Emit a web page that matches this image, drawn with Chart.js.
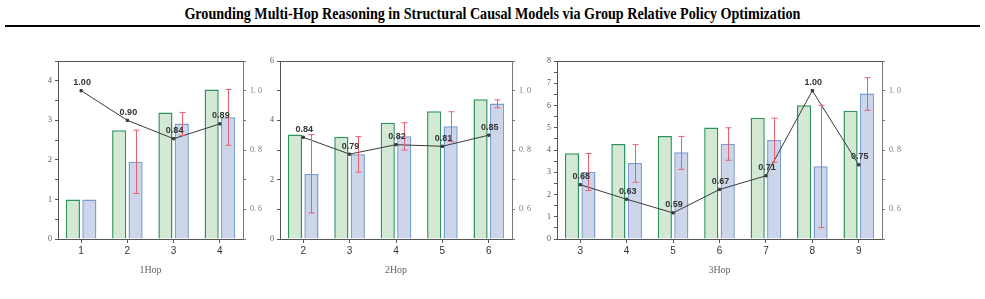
<!DOCTYPE html>
<html><head><meta charset="utf-8">
<script src="https://cdn.jsdelivr.net/npm/chart.js@4/dist/chart.umd.min.js"></script>
<style>
body{margin:0;width:985px;height:299px;background:#fff;position:relative;overflow:hidden}
#title{position:absolute;top:4px;left:0;width:985px;text-align:center;font:bold 17px 'Liberation Serif',serif;color:#000;white-space:nowrap;transform:scaleX(0.83);transform-origin:492px 0}
#rule{position:absolute;left:5px;top:25px;width:975px;height:2px;background:#000}
canvas{position:absolute}
</style></head><body>
<div id="title">Grounding Multi-Hop Reasoning in Structural Causal Models via Group Relative Policy Optimization</div>
<div id="rule"></div>
<canvas id="c1"></canvas><canvas id="c2"></canvas><canvas id="c3"></canvas>
<script>
// ---- data ----
const hops1 = ['1','2','3','4'];
const green1 = [1.0, 2.75, 3.2, 3.78];
const blue1  = [1.0, 1.95, 2.92, 3.08];
const errLo1 = [null, 1.15, 2.62, 2.37];
const errHi1 = [null, 2.75, 3.2, 3.78];
const acc1   = [1.00, 0.90, 0.838, 0.888];

const hops2 = ['2','3','4','5','6'];
const green2 = [3.52, 3.45, 3.92, 4.31, 4.71];
const blue2  = [2.19, 2.86, 3.46, 3.80, 4.57];
const errLo2 = [0.88, 2.25, 3.0, 3.28, 4.42];
const errHi2 = [3.52, 3.45, 3.92, 4.29, 4.69];
const acc2   = [0.843, 0.786, 0.818, 0.8125, 0.85];

const hops3 = ['3','4','5','6','7','8','9'];
const green3 = [3.85, 4.27, 4.63, 5.01, 5.45, 6.01, 5.76];
const blue3  = [3.01, 3.42, 3.90, 4.28, 4.45, 3.27, 6.54];
const errLo3 = [2.18, 2.55, 3.13, 3.54, 3.45, 0.51, 5.78];
const errHi3 = [3.84, 4.24, 4.61, 5.00, 5.43, 6.01, 7.25];
const acc3   = [0.683, 0.634, 0.588, 0.667, 0.713, 1.00, 0.75];

const axisTitles = ['1Hop','2Hop','3Hop'];

// ---- styles ----
const GREEN_FILL='#d4e9d4', GREEN_LINE='#2f9360', BLUE_FILL='#cdd5ea', BLUE_LINE='#7b9dd0';
const ERR='#e8606e', LINE='#3a3a3a';
const AXIS='#555';

const extras = {
  id:'extras',
  afterDatasetsDraw(chart){
    const ctx=chart.ctx, ca=chart.chartArea, o=chart.options.plugins.extras;
    ctx.save();
    ctx.strokeStyle=AXIS; ctx.lineWidth=1;
    ctx.beginPath(); ctx.moveTo(ca.left,ca.top+0.5); ctx.lineTo(ca.right,ca.top+0.5); ctx.stroke();
    const meta=chart.getDatasetMeta(1), y=chart.scales.y;
    ctx.strokeStyle=ERR; ctx.lineWidth=1;
    meta.data.forEach((bar,i)=>{
      if(o.lo[i]==null) return;
      const x=Math.round(bar.x)+0.5, y1=y.getPixelForValue(o.lo[i]), y2=y.getPixelForValue(o.hi[i]);
      ctx.beginPath();
      ctx.moveTo(x,y1); ctx.lineTo(x,y2);
      ctx.moveTo(x-3,y1); ctx.lineTo(x+3,y1);
      ctx.moveTo(x-3,y2); ctx.lineTo(x+3,y2);
      ctx.stroke();
    });
    const lm=chart.getDatasetMeta(2);
    ctx.fillStyle='#333'; ctx.font="bold 9px 'Liberation Sans', Arial, sans-serif";
    ctx.textAlign='center'; ctx.textBaseline='middle';
    lm.data.forEach((p,i)=>{
      ctx.fillText(chart.data.datasets[2].data[i].toFixed(2), p.x+1, p.y-8);
    });
    ctx.restore();
  }
};

function makePanel(id, plotLeft, plotW, labels, green, blue, lo, hi, acc, yMax, yStep, yLabelEvery, xTitle){
  const cv=document.getElementById(id);
  const W=plotW+80, H=230;
  cv.width=W; cv.height=H;
  cv.style.left=(plotLeft-40)+'px'; cv.style.top='50px';
  cv.style.width=W+'px'; cv.style.height=H+'px';
  new Chart(cv,{
    data:{
      labels:labels,
      datasets:[
        {type:'bar',data:green,backgroundColor:GREEN_FILL,borderColor:GREEN_LINE,borderWidth:1.5,yAxisID:'y',order:2,
         categoryPercentage:0.71,barPercentage:0.86},
        {type:'bar',data:blue,backgroundColor:BLUE_FILL,borderColor:BLUE_LINE,borderWidth:1.5,yAxisID:'y',order:2,
         categoryPercentage:0.71,barPercentage:0.86},
        {type:'line',data:acc,borderColor:LINE,borderWidth:1,backgroundColor:LINE,pointStyle:'rect',pointRadius:1.6,
         yAxisID:'y2',order:0,tension:0}
      ]
    },
    options:{
      responsive:false, animation:false,
      layout:{padding:{top:11,left:0,right:0,bottom:0}},
      plugins:{legend:{display:false},tooltip:{enabled:false},extras:{lo:lo,hi:hi}},
      scales:{
        x:{
          offset:true,
          grid:{offset:false,drawOnChartArea:false,drawTicks:true,tickLength:4,color:AXIS},
          border:{color:AXIS,width:1},
          ticks:{color:'#333',font:{family:"'Liberation Sans', Arial, sans-serif",size:10},padding:2},
          title:{display:true,text:xTitle,color:'#666',font:{family:"'Liberation Serif', serif",size:10},padding:{top:5}},
          afterFit(s){s.height=41;}
        },
        y:{
          position:'left',min:0,max:yMax,
          grid:{drawOnChartArea:false,drawTicks:true,tickLength:3,color:AXIS},
          border:{color:AXIS,width:1},
          ticks:{stepSize:yStep,autoSkip:false,color:'#555',padding:3,
            font:{family:"'Liberation Serif', serif",size:8},
            callback:(v)=>{const r=v/yLabelEvery; return Math.abs(r-Math.round(r))<1e-6? String(Math.round(v)) : '';}},
          afterFit(s){s.width=40;}
        },
        y2:{
          position:'right',min:0.5,max:1.1,
          grid:{drawOnChartArea:false,drawTicks:true,tickLength:3,color:'#777'},
          border:{color:'#777',width:1},
          ticks:{stepSize:0.1,autoSkip:false,color:'#777',padding:4,
            font:{family:"'Liberation Serif', serif",size:8},
            callback:(v)=>{const k=Math.round(v*10); return (k===6||k===8||k===10)? (k/10).toFixed(1).replace('.','. ') : '';}},
          afterFit(s){s.width=40;}
        }
      }
    },
    plugins:[extras]
  });
}

makePanel('c1',58,185,hops1,green1,blue1,errLo1,errHi1,acc1,4.5,0.5,1,axisTitles[0]);
makePanel('c2',280,232,hops2,green2,blue2,errLo2,errHi2,acc2,6,1,2,axisTitles[1]);
makePanel('c3',557,325,hops3,green3,blue3,errLo3,errHi3,acc3,8,0.5,1,axisTitles[2]);
</script>
</body></html>
